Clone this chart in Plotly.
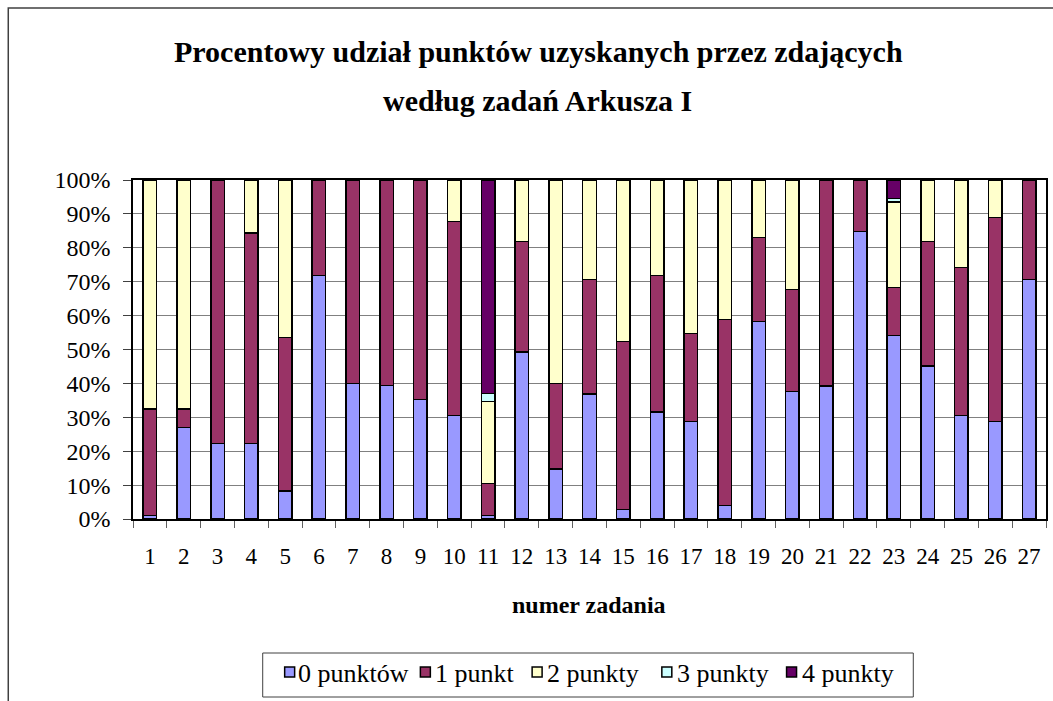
import plotly.graph_objects as go

# ---- data (percent of examinees per task) ----
tasks = [str(i) for i in range(1, 28)]
series_names = ["0 punktów", "1 punkt", "2 punkty", "3 punkty", "4 punkty"]

p0 = [1.0, 27.0, 22.2, 22.2, 8.2, 71.8, 40.0, 39.4, 35.3, 30.5, 1.0, 49.3, 14.7, 36.9,
      2.8, 31.6, 28.7, 4.0, 58.3, 37.6, 39.3, 84.8, 54.1, 45.2, 30.5, 28.7, 70.6]
p1 = [31.4, 5.4, 77.8, 62.1, 45.3, 28.2, 60.0, 60.6, 64.7, 57.2, 9.5, 32.6, 25.3, 33.7,
      49.6, 40.2, 26.0, 54.8, 24.8, 30.1, 60.7, 15.2, 14.2, 36.7, 43.7, 60.2, 29.4]
p2 = [67.6, 67.6, 0, 15.7, 46.5, 0, 0, 0, 0, 12.3, 24.2, 18.1, 60.0, 29.4,
      47.6, 28.2, 45.3, 41.2, 16.9, 32.3, 0, 0, 25.2, 18.1, 25.8, 11.1, 0]
p3 = [0, 0, 0, 0, 0, 0, 0, 0, 0, 0, 2.3, 0, 0, 0,
      0, 0, 0, 0, 0, 0, 0, 0, 1.0, 0, 0, 0, 0]
p4 = [0, 0, 0, 0, 0, 0, 0, 0, 0, 0, 63.0, 0, 0, 0,
      0, 0, 0, 0, 0, 0, 0, 0, 5.5, 0, 0, 0, 0]
series_values = [p0, p1, p2, p3, p4]
colors = ["#9999FF", "#993366", "#FFFFCC", "#CCFFFF", "#660066"]

title_lines = ["Procentowy udział punktów uzyskanych przez zdających",
               "według zadań Arkusza I"]
x_title = "numer zadania"

# ---- geometry helpers (pixels -> paper) ----
W, H = 1053, 701
PL, PR, PT, PB = 133, 1048, 180, 519
def px(x):
    return (x - PL) / (PR - PL)
def py(y):
    return (PB - y) / (PB - PT)

FONT = "Liberation Serif"

fig = go.Figure()
for name, vals, col in zip(series_names, series_values, colors):
    fig.add_trace(go.Bar(
        x=tasks, y=vals, name=name,
        marker=dict(color=col, line=dict(color="black", width=1.5)),
    ))

fig.update_layout(
    width=W, height=H,
    margin=dict(l=PL, r=W - PR, t=PT, b=H - PB),
    barmode="stack", bargap=0.6,
    paper_bgcolor="white", plot_bgcolor="white",
    font=dict(family=FONT, color="black", size=24),
    showlegend=False,
)

fig.update_xaxes(
    type="category", tickson="boundaries", ticks="outside", ticklen=7,
    tickcolor="#606060", showline=True, mirror=True, linecolor="black",
    linewidth=1.5, showgrid=False, tickfont=dict(size=23), tickangle=0,
    ticklabelstandoff=16,
)
fig.update_yaxes(
    range=[0, 100], dtick=10, ticksuffix="%", ticks="outside", ticklen=8,
    tickcolor="#404040", showline=True, mirror=True, linecolor="black",
    linewidth=1.5, showgrid=True, gridcolor="#808080", gridwidth=1,
    zeroline=False, tickfont=dict(size=24), ticklabelstandoff=8,
)

# title lines
fig.add_annotation(text="<b>%s</b>" % title_lines[0], xref="paper", yref="paper",
                   x=px(539), y=py(51), xanchor="center", yanchor="middle",
                   showarrow=False, font=dict(family=FONT, size=30))
fig.add_annotation(text="<b>%s</b>" % title_lines[1], xref="paper", yref="paper",
                   x=px(538), y=py(100), xanchor="center", yanchor="middle",
                   showarrow=False, font=dict(family=FONT, size=30))
# axis title
fig.add_annotation(text="<b>%s</b>" % x_title, xref="paper", yref="paper",
                   x=px(590), y=py(605), xanchor="center", yanchor="middle",
                   showarrow=False, font=dict(family=FONT, size=24))

# outer chart frame (extends past right/bottom edges of the picture)
fig.add_shape(type="rect", xref="paper", yref="paper",
              x0=px(8), y0=py(8), x1=px(1100), y1=py(800),
              line=dict(color="#404040", width=1.5), fillcolor="rgba(0,0,0,0)",
              layer="below")

# legend (drawn like the original: small square + label, inside a box)
fig.add_shape(type="rect", xref="paper", yref="paper",
              x0=px(263), y0=py(653), x1=px(915), y1=py(697),
              line=dict(color="#404040", width=1), fillcolor="white", layer="above")
leg_sym_x = [285, 421, 533, 663, 788]
leg_txt_x = [296, 434, 546, 676, 801]
for name, col, sx, tx in zip(series_names, colors, leg_sym_x, leg_txt_x):
    fig.add_shape(type="rect", xref="paper", yref="paper",
                  x0=px(sx), y0=py(667), x1=px(sx + 10), y1=py(677),
                  line=dict(color="black", width=1.5), fillcolor=col, layer="above")
    fig.add_annotation(text=name, xref="paper", yref="paper",
                       x=px(tx), y=py(673), xanchor="left", yanchor="middle",
                       showarrow=False, font=dict(family=FONT, size=26))

fig.write_html("out.html", config={"displayModeBar": False},
               post_script="document.body.style.margin='0px';")
